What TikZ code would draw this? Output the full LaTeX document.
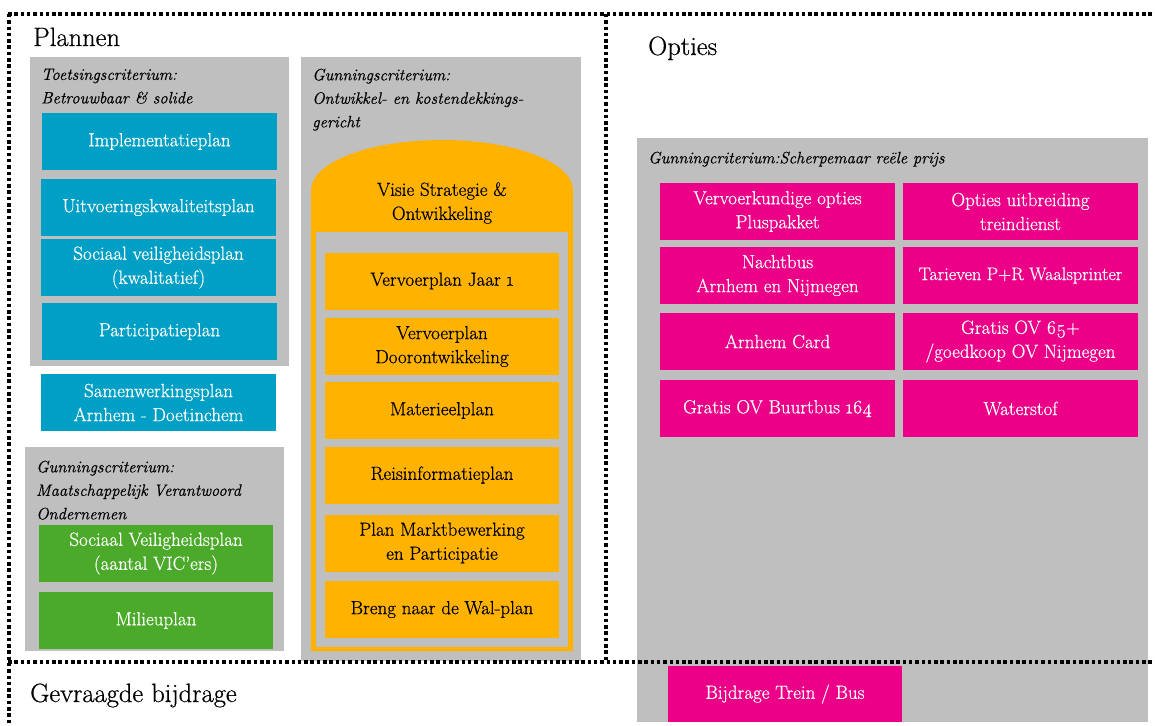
\documentclass[tikz,border=0pt]{standalone}
\usepackage{fontspec}
\setmainfont{Latin Modern Roman}[FakeBold=0.6]
\usepackage{tikz}
\definecolor{grayc}{RGB}{191,191,191}
\definecolor{bluec}{RGB}{0,160,198}
\definecolor{greenc}{RGB}{76,170,42}
\definecolor{orangec}{RGB}{255,178,0}
\definecolor{pinkc}{RGB}{236,0,136}
\begin{document}
\begin{tikzpicture}[x=1pt,y=-1pt,
  area/.style={fill=grayc},
  boxfont/.style={font=\fontsize{19}{24}\selectfont},
  planbox/.style={rectangle, inner sep=0pt, minimum width=235pt, minimum height=57pt, align=center, boxfont},
  bluebox/.style={planbox, fill=bluec, text=white},
  greenbox/.style={planbox, fill=greenc, text=white, minimum width=234pt},
  orangebox/.style={planbox, fill=orangec, text=black, minimum width=234pt},
  pinkbox/.style={planbox, fill=pinkc, text=white},
  critlabel/.style={anchor=north west, inner sep=0pt, align=left, font=\fontsize{16.5}{23.5}\selectfont\itshape},
  title/.style={anchor=base west, inner sep=0pt, font=\fontsize{26.5}{30}\selectfont},
  divider/.style={line width=3.5pt, dash pattern=on 3.5pt off 2.8pt}
]
\useasboundingbox (0,0) rectangle (1155,725);
% gray areas
\fill[area] (30,57) rectangle (289,366);
\fill[area] (25,447) rectangle (284,651);
\fill[area] (301,57) rectangle (581,661);
\fill[area] (637,138) rectangle (1148,722);
% orange dome shape
\fill[orangec] (311,651) -- (311,190) arc[start angle=180, end angle=360, x radius=131, y radius=50] -- (573,651) -- cycle;
\fill[area] (316,232) rectangle (568,647);

% titles
\node[title] (plannen) at (33,46) {Plannen};
\node[title] (opties) at (648,55) {Opties};
\node[title] (bijdrage) at (30,702) {Gevraagde bijdrage};

% criteria labels
\node[critlabel] (toets) at (41,68.5) {Toetsingscriterium:\\Betrouwbaar \& solide};
\node[critlabel] (gunont) at (312,68.5) {Gunningscriterium:\\Ontwikkel- en kostendekkings-\\gericht};
\node[critlabel] (gunmvo) at (36,460.5) {Gunningscriterium:\\Maatschappelijk Verantwoord\\Ondernemen};
\node[critlabel] (gunprijs) at (648,151.5) {Gunningcriterium:Scherpemaar reële prijs};

% blue
\node[bluebox] (impl) at (159.5,141.5) {Implementatieplan};
\node[bluebox] (uitv) at (158.5,207.5) {Uitvoeringskwaliteitsplan};
\node[bluebox] (soc) at (158.5,267.5) {Sociaal veiligheidsplan\\(kwalitatief)};
\node[bluebox] (part) at (159.5,331.5) {Participatieplan};
\node[bluebox] (samen) at (158.5,402.5) {Samenwerkingsplan\\Arnhem - Doetinchem};

% green
\node[greenbox] (socv) at (156,553.5) {Sociaal Veiligheidsplan\\(aantal VIC’ers)};
\node[greenbox] (milieu) at (156,620.5) {Milieuplan};

% orange
\node[inner sep=0pt, align=center, boxfont] (visie) at (442,203) {Visie Strategie \&\\Ontwikkeling};
\node[orangebox] (vj1) at (442,281) {Vervoerplan Jaar \oldstylenums{1}};
\node[orangebox] (vdo) at (442,346.5) {Vervoerplan\\Doorontwikkeling};
\node[orangebox] (mat) at (442,410.5) {Materieelplan};
\node[orangebox] (reis) at (442,475) {Reisinformatieplan};
\node[orangebox] (markt) at (442,543) {Plan Marktbewerking\\en Participatie};
\node[orangebox] (breng) at (442,609.5) {Breng naar de Wal-plan};

% pink
\node[pinkbox] (p1) at (777.5,211.5) {Vervoerkundige opties\\Pluspakket};
\node[pinkbox] (p2) at (1020.5,211.5) {Opties uitbreiding\\treindienst};
\node[pinkbox] (p3) at (777.5,275.5) {Nachtbus\\Arnhem en Nijmegen};
\node[pinkbox, font=\fontsize{18.2}{24}\selectfont] (p4) at (1020.5,275.5) {Tarieven P+R Waalsprinter};
\node[pinkbox] (p5) at (777.5,341.5) {Arnhem Card};
\node[pinkbox] (p6) at (1020.5,341.5) {Gratis OV \oldstylenums{65}+\\/goedkoop OV Nijmegen};
\node[pinkbox] (p7) at (777.5,408.5) {Gratis OV Buurtbus \oldstylenums{164}};
\node[pinkbox] (p8) at (1020.5,408.5) {Waterstof};
\node[pinkbox, minimum width=234pt, minimum height=56pt] (trein) at (785,694) {Bijdrage Trein / Bus};

% dotted dividers
\draw[divider] (8,14) -- (1155,14);
\draw[divider] (9,14) -- (9,725);
\draw[divider] (606,14) -- (606,662);
\draw[divider] (8,662) -- (1155,662);
\end{tikzpicture}
\end{document}
